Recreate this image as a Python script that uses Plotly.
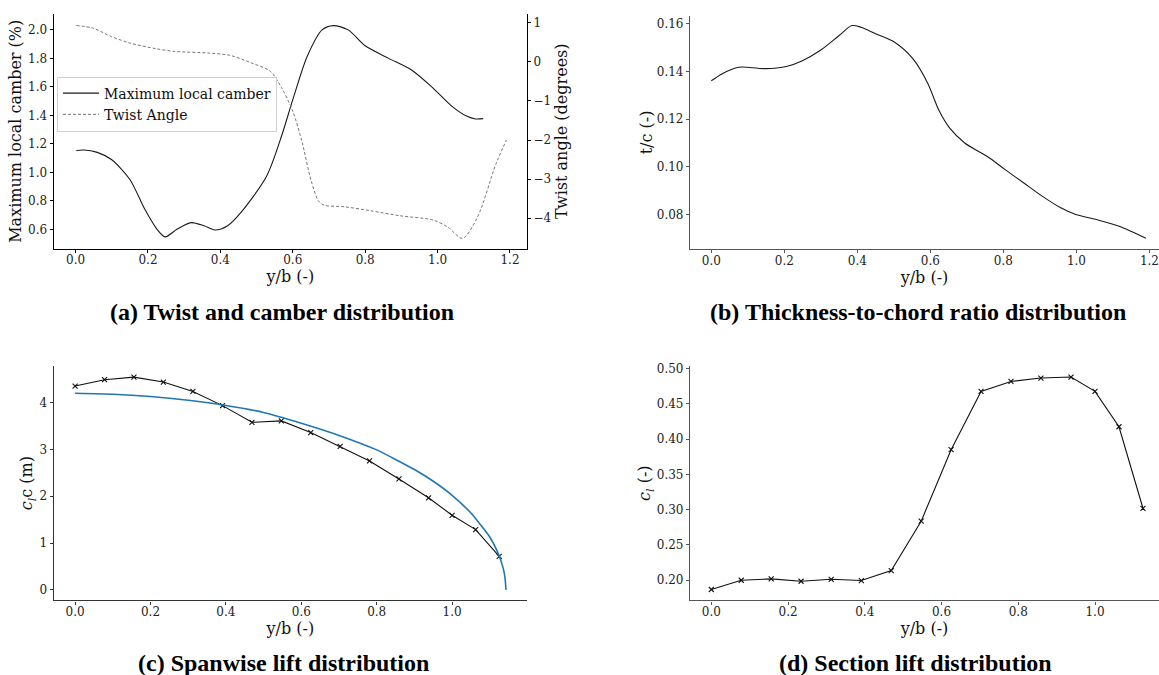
import plotly.graph_objects as go

# ---------------- data ----------------
# (a) maximum local camber (%)
camber_x = [0.002, 0.023, 0.06, 0.099, 0.150, 0.191, 0.225, 0.247, 0.28, 0.319, 0.355, 0.385, 0.42,
            0.457, 0.528, 0.569, 0.600, 0.640, 0.681, 0.712, 0.753, 0.799, 0.865, 0.927, 0.988,
            1.039, 1.080, 1.105, 1.126]
camber_y = [1.153, 1.157, 1.14, 1.09, 0.95, 0.742, 0.60, 0.547, 0.60, 0.647, 0.625, 0.595, 0.625,
            0.719, 0.975, 1.255, 1.51, 1.815, 2.0, 2.03, 2.0, 1.89, 1.80, 1.72, 1.59,
            1.465, 1.395, 1.375, 1.377]
# (a) twist angle (degrees)
twist_x = [0.002, 0.048, 0.099, 0.150, 0.222, 0.273, 0.365, 0.426, 0.487, 0.538, 0.569, 0.600,
           0.625, 0.651, 0.671, 0.687, 0.743, 0.814, 0.896, 0.988, 1.028, 1.069, 1.110, 1.161, 1.190]
twist_y = [0.934, 0.867, 0.65, 0.485, 0.34, 0.27, 0.23, 0.17, -0.03, -0.24, -0.66, -1.26,
           -2.03, -3.05, -3.56, -3.67, -3.71, -3.81, -3.94, -4.05, -4.23, -4.52, -3.98, -2.62, -2.0]
# (b) thickness-to-chord ratio
tc_x = [0.0, 0.030, 0.066, 0.086, 0.147, 0.208, 0.248, 0.299, 0.350, 0.385, 0.410, 0.451, 0.501,
        0.552, 0.593, 0.623, 0.653, 0.694, 0.755, 0.805, 0.856, 0.906, 0.957, 0.998, 1.059,
        1.119, 1.190]
tc_y = [0.1361, 0.1391, 0.1415, 0.1419, 0.1412, 0.1422, 0.1444, 0.1489, 0.1551, 0.1593, 0.1586,
        0.1558, 0.1524, 0.1454, 0.1350, 0.1238, 0.1162, 0.1100, 0.1044, 0.0988, 0.0932, 0.0877,
        0.0828, 0.0800, 0.0777, 0.0749, 0.0700]
# (c)/(d) section stations
station_x = [0.0, 0.078, 0.156, 0.234, 0.3125, 0.391, 0.469, 0.547, 0.625, 0.703, 0.781, 0.859,
             0.9375, 1.0, 1.0625, 1.125]
clc = [4.354, 4.49, 4.545, 4.44, 4.24, 3.936, 3.58, 3.61, 3.36, 3.065, 2.753, 2.37, 1.967, 1.593,
       1.287, 0.714]
cl = [0.1869, 0.200, 0.202, 0.1986, 0.2014, 0.1996, 0.2137, 0.2837, 0.385, 0.4676, 0.4817, 0.4865,
      0.4879, 0.4676, 0.4175, 0.302]
# (c) elliptical reference distribution
ell_x = [0.0, 0.1, 0.2, 0.3, 0.4, 0.5, 0.6, 0.7, 0.8, 0.9, 0.95, 1.0, 1.05, 1.1, 1.12, 1.135,
         1.14, 1.143]
ell_y = [4.20, 4.18, 4.13, 4.05, 3.94, 3.79, 3.56, 3.30, 2.99, 2.57, 2.32, 2.02, 1.64, 1.13, 0.82,
         0.48, 0.28, 0.0]

captions = ["<b>(a) Twist and camber distribution</b>",
            "<b>(b) Thickness-to-chord ratio distribution</b>",
            "<b>(c) Spanwise lift distribution</b>",
            "<b>(d) Section lift distribution</b>"]

# ---------------- figure ----------------
W, H = 1159, 675
SERIF = "DejaVu Serif"

fig = go.Figure()
fig.add_trace(go.Scatter(x=camber_x, y=camber_y, mode="lines", name="Maximum local camber",
                         line=dict(color="#1a1a1a", width=1.1, shape="spline", smoothing=0.8),
                         xaxis="x", yaxis="y"))
fig.add_trace(go.Scatter(x=twist_x, y=twist_y, mode="lines", name="Twist Angle",
                         line=dict(color="#777777", width=1, dash="3px,2px", shape="spline", smoothing=0.8),
                         xaxis="x", yaxis="y2"))
fig.add_trace(go.Scatter(x=tc_x, y=tc_y, mode="lines", showlegend=False,
                         line=dict(color="#1a1a1a", width=1.1, shape="spline", smoothing=0.8),
                         xaxis="x2", yaxis="y3"))
fig.add_trace(go.Scatter(x=station_x, y=clc, mode="lines+markers", showlegend=False,
                         line=dict(color="#111111", width=1.1),
                         marker=dict(symbol="x-thin", size=5, line=dict(color="#111111", width=1.1)),
                         xaxis="x3", yaxis="y4"))
fig.add_trace(go.Scatter(x=ell_x, y=ell_y, mode="lines", showlegend=False,
                         line=dict(color="#1f77b4", width=1.6, shape="spline", smoothing=0.5),
                         xaxis="x3", yaxis="y4"))
fig.add_trace(go.Scatter(x=station_x, y=cl, mode="lines+markers", showlegend=False,
                         line=dict(color="#111111", width=1.1),
                         marker=dict(symbol="x-thin", size=5, line=dict(color="#111111", width=1.1)),
                         xaxis="x4", yaxis="y5"))


def ax(color="#000000", **kw):
    d = dict(showline=True, linecolor=color, linewidth=1.2, mirror=False, showgrid=False,
             zeroline=False, ticks="outside", ticklen=3, tickwidth=1, tickcolor=color,
             ticklabeloverflow="allow",
             tickfont=dict(family=SERIF, size=12, color="#222222"),
             title_font=dict(family=SERIF, size=16, color="#111111"))
    d.update(kw)
    return d


def xax(**kw):
    return ax(ticklabelstandoff=-3, **kw)


def px_x(p):
    return p / W


def px_y(p):
    return 1 - p / H


top_dom = [px_y(246), px_y(10)]
bot_dom = [px_y(600), px_y(364)]
left_dom = [px_x(53.6), px_x(527)]
right_dom = [px_x(690), 1.0]

fig.update_layout(
    width=W, height=H, margin=dict(l=0, r=0, t=0, b=0),
    paper_bgcolor="white", plot_bgcolor="white",
    font=dict(family=SERIF, color="#111111"),
    showlegend=True,
    legend=dict(x=px_x(57), y=px_y(73), xanchor="left", yanchor="top",
                bgcolor="rgba(255,255,255,0.85)", bordercolor="#d0d0d0", borderwidth=1,
                font=dict(family=SERIF, size=14, color="#111111"), tracegroupgap=0,
                itemwidth=36),
    xaxis=xax(domain=left_dom, anchor="y", range=[-0.0607, 1.247], tickvals=[0, 0.2, 0.4, 0.6, 0.8, 1.0, 1.2],
              tickformat=".1f", title=dict(text="y/b (-)", standoff=0)),
    yaxis=ax(domain=top_dom, anchor="x", range=[0.465, 2.112], dtick=0.2, tickformat=".1f",
             title=dict(text="Maximum local camber (%)", standoff=2)),
    yaxis2=ax(overlaying="y", anchor="x", side="right", range=[-4.78, 1.23], dtick=1,
              title=dict(text="Twist angle (degrees)", standoff=2)),
    xaxis2=xax(color="#555555", domain=right_dom, anchor="y3", range=[-0.0583, 1.2261],
               tickvals=[0, 0.2, 0.4, 0.6, 0.8, 1.0, 1.2], tickformat=".1f",
               title=dict(text="y/b (-)", standoff=0)),
    yaxis3=ax(color="#555555", domain=[px_y(246.7), px_y(11.7)], anchor="x2", range=[0.06539, 0.16346],
              dtick=0.02, tickformat=".2f", title=dict(text="t/c (-)", standoff=0)),
    xaxis3=xax(color="#333333", domain=left_dom, anchor="y4", range=[-0.0571, 1.1987],
               dtick=0.2, tickformat=".1f", title=dict(text="y/b (-)", standoff=0)),
    yaxis4=ax(color="#333333", domain=bot_dom, anchor="x3", range=[-0.227, 4.786], dtick=1,
              title=dict(text="<i>c<sub>l</sub></i>c (m)", standoff=2)),
    xaxis4=xax(color="#555555", domain=right_dom, anchor="y5", range=[-0.0555, 1.1668],
               dtick=0.2, tickformat=".1f", title=dict(text="y/b (-)", standoff=0)),
    yaxis5=ax(color="#555555", domain=bot_dom, anchor="x4", range=[0.1714, 0.5038], dtick=0.05,
              tickformat=".2f", title=dict(text="<i>c<sub>l</sub></i> (-)", standoff=0)),
)

cap_pos = [(282, 310), (918, 310), (283, 663), (915, 663)]
for text, (cx, cy) in zip(captions, cap_pos):
    fig.add_annotation(text=text, x=px_x(cx), y=px_y(cy), xref="paper", yref="paper",
                       showarrow=False, xanchor="center", yanchor="middle",
                       font=dict(family="Liberation Serif", size=24, color="#000000"))

fig.write_html("out.html")
